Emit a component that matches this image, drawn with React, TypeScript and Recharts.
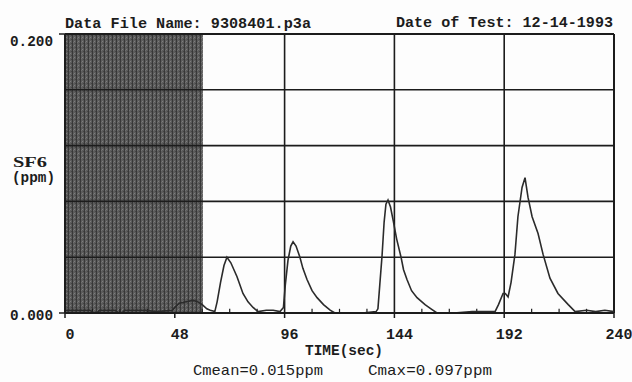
import React from "react";
import {
  LineChart,
  Line,
  XAxis,
  YAxis,
  ReferenceArea,
  ReferenceLine,
} from "recharts";

const times = [
  0, 5, 11, 12.5, 14, 15, 22, 23.5, 25, 26, 35, 40, 47, 48, 50, 53, 56, 58, 60, 62, 63.5, 65.5,
  66.5, 68, 69.5, 70.8, 72.5, 75.2, 77.8, 80, 82.2, 84.4, 88, 91, 94, 95.5,
  96.3, 97.5, 98.7, 99.7, 101, 102.7, 104, 105.8, 108, 110.2, 113, 115.9, 118, 125, 130, 136,
  136.8, 137.6, 138.6, 139.5, 140.3, 141.2, 142.3, 143.5, 145, 146.9, 148, 149.5, 151.5, 153.9, 157.4, 160, 162.6, 170, 178, 183, 188,
  189.5, 191.5, 192.5, 193.7, 195, 196.7, 198, 199.8, 201.1, 202.4, 204.2, 206.8, 209, 212, 215.5, 220, 223, 228, 232, 236, 240,
];
const sf6 = [
  0.002, 0.002, 0.002, 0.0, 0.0, 0.002, 0.002, 0.0, 0.0, 0.002, 0.002, 0.001, 0.002, 0.004, 0.007, 0.008, 0.009, 0.008, 0.006, 0.003, 0.002, 0.001,
  0.008, 0.022, 0.034, 0.04, 0.036, 0.026, 0.014, 0.008, 0.004, 0.001, 0.002, 0.002, 0.001, 0.004,
  0.02, 0.038, 0.048, 0.051, 0.048, 0.04, 0.032, 0.024, 0.016, 0.011, 0.006, 0.002, 0.0, 0.0, 0.0, 0.001,
  0.003, 0.02, 0.041, 0.065, 0.078, 0.081, 0.076, 0.066, 0.053, 0.04, 0.031, 0.024, 0.016, 0.011, 0.006, 0.003, 0.0, 0.0, 0.001, 0.001, 0.001,
  0.006, 0.014, 0.014, 0.0115, 0.022, 0.042, 0.069, 0.09, 0.097, 0.083, 0.069, 0.057, 0.042, 0.025, 0.014, 0.006, 0.001, 0.002, 0.001, 0.002, 0.001,
];
const xTicks = [0, 48, 96, 144, 192, 240];
const minorTicks = [12, 24, 36, 60, 72, 84, 108, 120, 132, 156, 168, 180, 204, 216, 228];
const yTicks = [0, 0.2];
const hGrid = [0.04, 0.08, 0.12, 0.16, 0.2];
const vGrid = [96, 144, 192, 240];
const shadeEnd = 60.3;

const data = times.map((t, i) => ({ t, v: sf6[i] }));

const INK = "#1c1c1c";
const FONT = "'Liberation Mono', 'DejaVu Sans Mono', monospace";

const XTick = (props: any) => {
  const { x, y, payload } = props;
  const label = String(payload.value);
  return (
    <text
      x={x + 5}
      y={y + 19}
      textAnchor="middle"
      fontFamily={FONT}
      fontWeight="bold"
      fontSize={15}
      fill={INK}
    >
      {label}
    </text>
  );
};

const YTick = (props: any) => {
  const { y, payload } = props;
  const isTop = payload.value > 0.1;
  return (
    <text
      x={10}
      y={isTop ? y + 12 : y + 7}
      textLength={43}
      lengthAdjust="spacingAndGlyphs"
      fontFamily={FONT}
      fontWeight="bold"
      fontSize={15}
      fill={INK}
    >
      {payload.value.toFixed(3)}
    </text>
  );
};

export default function App() {
  return (
    <div style={{ width: 632, height: 382 }}>
      <style>{"html,body{margin:0;padding:0;overflow:hidden;}"}</style>
      <LineChart
        width={632}
        height={382}
        data={data}
        margin={{ top: 34, right: 18, left: 0, bottom: 8 }}
        style={{ background: "#fdfdfd" }}
      >
        <defs>
          <pattern id="stip" width="4" height="4" patternUnits="userSpaceOnUse">
            <rect x="0" y="0" width="4" height="4" fill="#5c5c5c" />
            <rect x="0" y="0" width="1" height="4" fill="#383838" />
            <rect x="2" y="1" width="1" height="1" fill="#7e7e7e" />
            <rect x="3" y="3" width="1" height="1" fill="#444" />
            <rect x="1" y="2" width="1" height="1" fill="#707070" />
          </pattern>
        </defs>
        <XAxis
          dataKey="t"
          type="number"
          domain={[0, 240]}
          ticks={xTicks}
          height={61}
          tick={<XTick />}
          tickSize={5}
          tickLine={{ stroke: INK, strokeWidth: 1.5 }}
          axisLine={{ stroke: INK, strokeWidth: 2 }}
          interval={0}
        />
        <YAxis
          type="number"
          domain={[0, 0.2]}
          ticks={yTicks}
          width={65}
          tick={<YTick />}
          tickSize={6}
          tickLine={{ stroke: INK, strokeWidth: 1.5 }}
          axisLine={{ stroke: INK, strokeWidth: 2 }}
          allowDataOverflow
        />
        <ReferenceArea
          x1={0}
          x2={shadeEnd}
          y1={0}
          y2={0.2}
          fill="url(#stip)"
          fillOpacity={1}
          stroke="none"
        />
        {hGrid.map((g) => (
          <ReferenceLine key={"h" + g} y={g} stroke={INK} strokeWidth={g === 0.2 ? 2 : 1.6} />
        ))}
        {vGrid.map((g) => (
          <ReferenceLine key={"v" + g} x={g} stroke={INK} strokeWidth={g === 240 ? 2 : 1.6} />
        ))}
        {minorTicks.map((m) => (
          <ReferenceLine
            key={"m" + m}
            segment={[
              { x: m, y: 0 },
              { x: m, y: 0.003 },
            ]}
            stroke={INK}
            strokeWidth={1.2}
          />
        ))}
        <Line
          dataKey="v"
          type="linear"
          stroke="#2b2b2b"
          strokeWidth={1.6}
          dot={false}
          isAnimationActive={false}
        />
        <text x={65} y={28} textLength={246} lengthAdjust="spacingAndGlyphs" fontFamily={FONT} fontWeight="bold" fontSize={15} fill={INK}>
          Data File Name: 9308401.p3a
        </text>
        <text x={396} y={27} textLength={217} lengthAdjust="spacingAndGlyphs" fontFamily={FONT} fontWeight="bold" fontSize={15} fill={INK}>
          Date of Test: 12-14-1993
        </text>
        <text x={13} y={167} textLength={34} lengthAdjust="spacingAndGlyphs" fontFamily="'Liberation Serif', serif" fontWeight="bold" fontSize={15} fill={INK}>
          SF6
        </text>
        <text x={12} y={182} textLength={43} lengthAdjust="spacingAndGlyphs" fontFamily={FONT} fontWeight="bold" fontSize={15} fill={INK}>
          (ppm)
        </text>
        <text x={305} y={355} textLength={78} lengthAdjust="spacingAndGlyphs" fontFamily={FONT} fontWeight="bold" fontSize={15} fill={INK}>
          TIME(sec)
        </text>
        <text x={193} y={375} textLength={130} lengthAdjust="spacingAndGlyphs" fontFamily={FONT} fontSize={15} fill={INK}>
          Cmean=0.015ppm
        </text>
        <text x={368} y={375} textLength={124} lengthAdjust="spacingAndGlyphs" fontFamily={FONT} fontSize={15} fill={INK}>
          Cmax=0.097ppm
        </text>
      </LineChart>
    </div>
  );
}
